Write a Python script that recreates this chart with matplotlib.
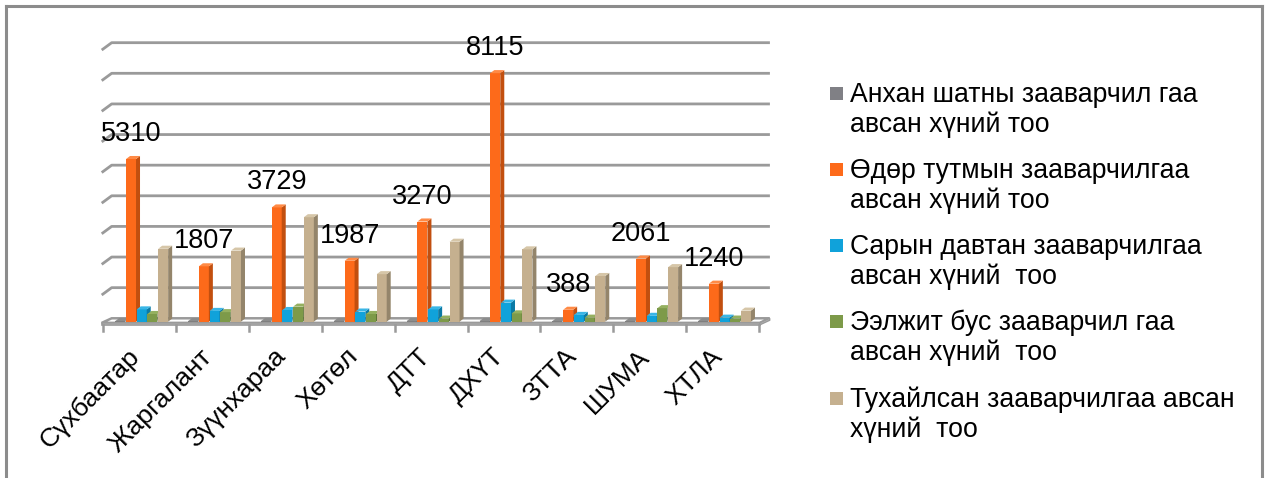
import matplotlib
matplotlib.use("Agg")
import matplotlib.pyplot as plt
from matplotlib.patches import Polygon, Rectangle
from matplotlib.lines import Line2D

plt.rcParams['font.family'] = ['Liberation Sans', 'DejaVu Sans']

categories = ["Сүхбаатар", "Жаргалант", "Зүүнхараа", "Хөтөл", "ДТТ",
              "ДХҮТ", "ЗТТА", "ШУМА", "ХТЛА"]

series_names = [
    ["Анхан шатны зааварчил гаа", "авсан хүний тоо"],
    ["Өдөр тутмын зааварчилгаа", "авсан хүний тоо"],
    ["Сарын давтан зааварчилгаа", "авсан хүний  тоо"],
    ["Ээлжит бус зааварчил гаа", "авсан хүний  тоо"],
    ["Тухайлсан зааварчилгаа авсан", "хүний  тоо"],
]

anhan = [20, 20, 20, 20, 20, 20, 20, 20, 20]
odor = [5310, 1807, 3729, 1987, 3270, 8115, 388, 2061, 1240]
saryn = [400, 350, 380, 330, 400, 620, 220, 190, 130]
eeljit = [250, 310, 490, 250, 100, 270, 130, 440, 100]
tuhai = [2380, 2320, 3410, 1550, 2610, 2360, 1490, 1780, 360]

all_series = [anhan, odor, saryn, eeljit, tuhai]

front_cols = ['#7f7f7f', '#fd6a1a', '#10a2da', '#7d9a49', '#c5b08f']
side_cols = ['#5f5f5f', '#c24f0f', '#0b7aa5', '#5d7436', '#94856b']
top_cols = ['#8c8c8c', '#ff8a45', '#3ab6e6', '#95b060', '#d6c6a8']
legend_cols = ['#808085', '#fd6a1a', '#10a2da', '#7d9a49', '#c5b08f']

# 3d look
OFF = 110      # how much lower bar fronts sit than back wall
SDX = 0.055    # bar depth (x)
SDY = 100      # bar depth (y)
WDX = 0.137    # wall depth (x)
WDY = 240      # wall depth (y)
grid_col = '#9a9a9a'

fig = plt.figure(figsize=(12.67, 4.78), dpi=100)
ax = fig.add_axes([0.08153, 0.3021, 0.5175, 0.6086])
ax.set_xlim(-0.5, 8.5)
ax.set_ylim(-500, 9000)
ax.axis('off')

# back wall gridlines with left diagonal
for g in range(1000, 9001, 1000):
    ax.plot([-0.5 - 0.022, -0.5 - 0.022 + WDX, 8.5 + 0.15],
            [g - WDY, g, g], color=grid_col, lw=2, zorder=1,
            solid_capstyle='butt', clip_on=False)

# floor
fx0, fx1 = -0.522, 8.51
floor = Polygon([(fx0, -150), (fx1, -150), (fx1 + WDX, 0), (fx0 + WDX, 0)],
                closed=True, facecolor='white', edgecolor=grid_col, lw=1.8,
                zorder=2, clip_on=False)
ax.add_patch(floor)
slab = Polygon([(fx0, -150), (fx1, -150), (fx1, -215), (fx0, -215)],
               closed=True, facecolor='#d0d0d0', edgecolor=grid_col, lw=1.2,
               zorder=2, clip_on=False)
ax.add_patch(slab)
side_slab = Polygon([(fx1, -150), (fx1 + WDX, 0), (fx1 + WDX, -65), (fx1, -215)],
                    closed=True, facecolor='#bdbdbd', edgecolor=grid_col, lw=1.0,
                    zorder=2, clip_on=False)
ax.add_patch(side_slab)

# ticks between categories
for k in range(10):
    ax.plot([k - 0.5, k - 0.5], [-215, -430], color=grid_col, lw=1.8,
            zorder=2, clip_on=False)

# bars
w = 0.137
step = 0.147
xs = list(range(len(categories)))
for s, vals in enumerate(all_series):
    lefts = [i - 0.335 + s * step for i in xs]
    bars = ax.bar(lefts, vals, width=w, bottom=-OFF, align='edge',
                  color=front_cols[s], zorder=3 + s, clip_on=False)
    for b in bars:
        x0 = b.get_x()
        x1 = x0 + b.get_width()
        y0 = b.get_y()
        y1 = y0 + b.get_height()
        side = Polygon([(x1, y0), (x1, y1), (x1 + SDX, y1 + SDY), (x1 + SDX, y0 + SDY)],
                       closed=True, facecolor=side_cols[s], edgecolor='none',
                       zorder=3 + s, clip_on=False)
        top = Polygon([(x0, y1), (x1, y1), (x1 + SDX, y1 + SDY), (x0 + SDX, y1 + SDY)],
                      closed=True, facecolor=top_cols[s], edgecolor='none',
                      zorder=3 + s, clip_on=False)
        ax.add_patch(side)
        ax.add_patch(top)

# data labels on the orange series
for i, v in enumerate(odor):
    xc = i - 0.335 + step + w / 2
    ax.annotate(str(v), (xc, v - OFF), xytext=(0, 18), textcoords='offset points',
                ha='center', va='center', fontsize=19.5, color='black', zorder=20)

# category labels
for i, c in enumerate(categories):
    ax.text(i + 0.06, -850, c, rotation=45, ha='right', va='top',
            fontsize=19, color='black', clip_on=False)

# legend (manual)
leg_x = 830 / 1267
txt_x = 850 / 1267
base = [101.7, 178.0, 254.0, 330.0, 406.7]
for s in range(5):
    b1 = base[s]
    sq_c = b1 - 8.3
    fig.patches.append(Rectangle((leg_x, 1 - (sq_c + 6.5) / 478), 13 / 1267, 13 / 478,
                                 transform=fig.transFigure, facecolor=legend_cols[s],
                                 edgecolor='none'))
    fig.text(txt_x, 1 - b1 / 478, series_names[s][0], fontsize=19.2,
             va='baseline', ha='left')
    fig.text(txt_x, 1 - (b1 + 30.5) / 478, series_names[s][1], fontsize=19.2,
             va='baseline', ha='left')

# outer border (left, top, right)
bc = '#8c8c8c'
fig.add_artist(Line2D([6 / 1267, 6 / 1267], [0, 1 - 5.7 / 478], color=bc, lw=2.2,
                      transform=fig.transFigure))
fig.add_artist(Line2D([6 / 1267, 1261.7 / 1267], [1 - 5.7 / 478, 1 - 5.7 / 478],
                      color=bc, lw=2.2, transform=fig.transFigure))
fig.add_artist(Line2D([1261.7 / 1267, 1261.7 / 1267], [0, 1 - 5.7 / 478], color=bc,
                      lw=2.2, transform=fig.transFigure))

fig.savefig("out.png", dpi=100)
